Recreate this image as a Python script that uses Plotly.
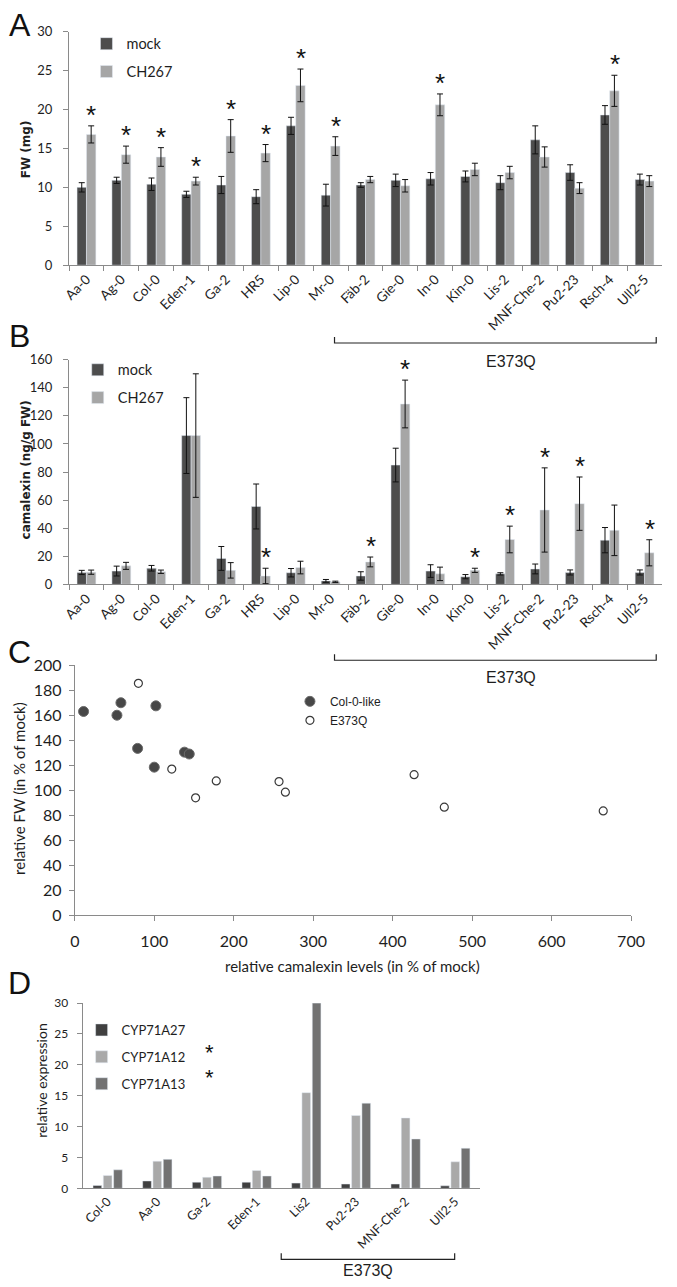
import plotly.graph_objects as go

W, H = 677, 1287

# ---- panel A / B data -------------------------------------------------------
ACCESSIONS = ["Aa-0", "Ag-0", "Col-0", "Eden-1", "Ga-2", "HR5", "Lip-0", "Mr-0",
              "Fäb-2", "Gie-0", "In-0", "Kin-0", "Lis-2", "MNF-Che-2", "Pu2-23",
              "Rsch-4", "Ull2-5"]

FW_MOCK = [10.0, 10.9, 10.4, 9.1, 10.3, 8.8, 17.9, 9.0, 10.3, 10.9, 11.1, 11.4, 10.6, 16.1, 11.9, 19.3, 11.0]
FW_MOCK_ERR = [0.6, 0.4, 0.8, 0.4, 1.1, 0.9, 1.1, 1.4, 0.3, 0.8, 0.8, 0.7, 0.9, 1.8, 1.0, 1.2, 0.7]
FW_CH267 = [16.8, 14.2, 13.9, 10.8, 16.6, 14.4, 23.1, 15.3, 11.0, 10.2, 20.6, 12.3, 11.9, 13.9, 9.9, 22.4, 10.8]
FW_CH267_ERR = [1.1, 1.1, 1.2, 0.5, 2.1, 1.1, 2.1, 1.2, 0.4, 0.8, 1.4, 0.8, 0.8, 1.3, 0.7, 2.0, 0.7]
FW_SIGNIFICANT = ["Aa-0", "Ag-0", "Col-0", "Eden-1", "Ga-2", "HR5", "Lip-0", "Mr-0", "In-0", "Rsch-4"]

CAM_MOCK = [8.5, 9.5, 11.5, 106, 18.5, 55.5, 8.3, 2.5, 6.0, 85, 9.5, 5.5, 7.5, 11, 8.5, 31.5, 8.5]
CAM_MOCK_ERR = [1.5, 3.5, 2.0, 27, 8.5, 16, 3.0, 1.0, 3.0, 12, 4.5, 1.5, 0.8, 3.5, 1.8, 9, 1.8]
CAM_CH267 = [8.7, 13.2, 9.0, 106, 10, 6, 12, 1.8, 16, 128.5, 7.5, 10, 32, 53, 57.5, 38.5, 22.5]
CAM_CH267_ERR = [1.5, 2.5, 1.2, 44, 5.5, 5.5, 4.5, 0.5, 3.5, 17, 4.8, 1.5, 9.5, 30, 19, 18, 9.3]
CAM_SIGNIFICANT = ["HR5", "Fäb-2", "Gie-0", "Kin-0", "Lis-2", "MNF-Che-2", "Pu2-23", "Ull2-5"]

# ---- panel C data -----------------------------------------------------------
COL_LIKE_CAM = [11, 53, 58, 102, 79, 100, 138, 144]
COL_LIKE_FW = [163, 160, 170, 167.5, 133.5, 118.5, 130.5, 129]
E373Q_CAM = [80, 122, 152, 178, 257, 265, 427, 465, 665]
E373Q_FW = [185.5, 117, 94, 107.5, 107, 98.5, 112.5, 86.5, 83.5]

# ---- panel D data -----------------------------------------------------------
EXPR_LINES = ["Col-0", "Aa-0", "Ga-2", "Eden-1", "Lis2", "Pu2-23", "MNF-Che-2", "Ull2-5"]
CYP71A27 = [0.45, 1.2, 1.0, 1.0, 0.85, 0.7, 0.7, 0.4]
CYP71A12 = [2.1, 4.4, 1.8, 2.9, 15.5, 11.8, 11.4, 4.3]
CYP71A13 = [3.0, 4.7, 2.0, 2.0, 30.0, 13.8, 8.0, 6.5]
EXPR_SIGNIFICANT = ["CYP71A12", "CYP71A13"]

MOCK_COLOR = "#4d4d4d"
CH267_COLOR = "#a6a6a6"
AXIS_COLOR = "#8a8a8a"
TEXT = "#1e1e1e"
CALIBRI = "Lato, 'Open Sans', sans-serif"
ARIAL = "'Liberation Sans', Arial, sans-serif"
VERDANA = "'DejaVu Sans', Verdana, sans-serif"


def px(x):
    return x / W


def py(y):
    return 1 - y / H


def err(values):
    return {"type": "data", "array": values, "color": "#111111", "thickness": 1, "width": 3}


fig = go.Figure()

# panel A and B bars
for xa, ya, leg, mock, mock_err, ch, ch_err, tag in [
    ("x", "y", "legend", FW_MOCK, FW_MOCK_ERR, FW_CH267, FW_CH267_ERR, "a"),
    ("x2", "y2", "legend2", CAM_MOCK, CAM_MOCK_ERR, CAM_CH267, CAM_CH267_ERR, "b"),
]:
    fig.add_trace(go.Bar(x=ACCESSIONS, y=mock, name="mock", marker_color=MOCK_COLOR,
                         width=0.27, offset=-0.27, error_y=err(mock_err),
                         xaxis=xa, yaxis=ya, legend=leg, legendgroup=tag + "mock"))
    fig.add_trace(go.Bar(x=ACCESSIONS, y=ch, name="CH267", marker_color=CH267_COLOR,
                         width=0.27, offset=0, error_y=err(ch_err),
                         xaxis=xa, yaxis=ya, legend=leg, legendgroup=tag + "ch"))

# panel C scatter
fig.add_trace(go.Scatter(x=COL_LIKE_CAM, y=COL_LIKE_FW, mode="markers", name="Col-0-like",
                         marker={"size": 10, "color": "#474747", "line": {"color": "#6a6a6a", "width": 1}},
                         xaxis="x3", yaxis="y3", legend="legend3", legendgroup="c1"))
fig.add_trace(go.Scatter(x=E373Q_CAM, y=E373Q_FW, mode="markers", name="E373Q",
                         marker={"size": 8, "color": "white", "line": {"color": "#3a3a3a", "width": 1.2}},
                         xaxis="x3", yaxis="y3", legend="legend3", legendgroup="c2"))

# panel D bars
expr_series = [("CYP71A27", CYP71A27, "#404040", -0.29),
               ("CYP71A12", CYP71A12, "#a9a9a9", -0.083),
               ("CYP71A13", CYP71A13, "#727272", 0.125)]
for name, vals, color, off in expr_series:
    fig.add_trace(go.Bar(x=EXPR_LINES, y=vals, name=name, marker_color=color,
                         width=0.175, offset=off, xaxis="x4", yaxis="y4",
                         legend="legend4", legendgroup=name))

annotations = []

# significance asterisks over CH267 bars
for xa, ya, vals, errs, sig in [("x", "y", FW_CH267, FW_CH267_ERR, FW_SIGNIFICANT),
                                ("x2", "y2", CAM_CH267, CAM_CH267_ERR, CAM_SIGNIFICANT)]:
    for name, v, e in zip(ACCESSIONS, vals, errs):
        if name in sig:
            annotations.append(dict(x=name, y=v + e, xref=xa, yref=ya, text="*", showarrow=False,
                                    xshift=5, yshift=-6, yanchor="bottom",
                                    font={"family": ARIAL, "size": 26, "color": "#111"}))

# panel letters
for letter, y in [("A", 15), ("B", 331), ("C", 652), ("D", 988)]:
    annotations.append(dict(x=px(13), y=py(y), xref="paper", yref="paper", text=letter,
                            showarrow=False, xanchor="center", yanchor="middle",
                            font={"family": ARIAL, "size": 32, "color": "#111"}))

# axis titles
titles = [
    dict(x=px(20), y=py(141), text="<b>FW (mg)</b>", textangle=-90,
         font={"family": VERDANA, "size": 12, "color": TEXT}),
    dict(x=px(20), y=py(467), text="<b>camalexin (ng/g FW)</b>", textangle=-90,
         font={"family": VERDANA, "size": 12, "color": TEXT}),
    dict(x=px(13), y=py(790), text="relative FW (in % of mock)", textangle=-90,
         font={"family": CALIBRI, "size": 15, "color": TEXT}),
    dict(x=px(357), y=py(970), text="relative camalexin levels (in % of mock)",
         font={"family": CALIBRI, "size": 15, "color": TEXT}),
    dict(x=px(36), y=py(1086), text="relative expression", textangle=-90,
         font={"family": CALIBRI, "size": 14, "color": TEXT}),
]
for a in titles:
    a.update(xref="paper", yref="paper", showarrow=False, xanchor="center", yanchor="middle")
annotations += titles

# E373Q group labels and brackets
shapes = []
for x0, x1, y_line, y_text, x_text in [(338, 670, 338, 357, 520), (338, 670, 660, 678, 520),
                                       (283, 462, 1268, 1279, 373)]:
    shapes.append(dict(type="path", xref="paper", yref="paper",
                       path=f"M {px(x0)} {py(y_line - 6)} L {px(x0)} {py(y_line)} "
                            f"L {px(x1)} {py(y_line)} L {px(x1)} {py(y_line - 6)}",
                       line={"color": "#222", "width": 1.2}))
    annotations.append(dict(x=px(x_text), y=py(y_text), xref="paper", yref="paper", text="E373Q",
                            showarrow=False, xanchor="center", yanchor="middle",
                            font={"family": ARIAL, "size": 16, "color": TEXT}))

# legend asterisks in panel D (next to the significant genes, one legend row = 25 px)
for i, (name, *_rest) in enumerate(expr_series):
    if name in EXPR_SIGNIFICANT:
        annotations.append(dict(x=px(209), y=py(1033 + 25 * i), xref="paper", yref="paper", text="*",
                                showarrow=False, xanchor="center", yanchor="middle", height=16,
                                font={"family": ARIAL, "size": 22, "color": "#111"}))


def axis(**kw):
    base = dict(showline=True, linecolor=AXIS_COLOR, linewidth=1, showgrid=False, zeroline=False,
                ticks="outside", ticklen=5, tickcolor=AXIS_COLOR, tickwidth=1,
                tickfont={"family": CALIBRI, "size": 13, "color": TEXT})
    base.update(kw)
    return base


def legend(x, y, font, gap):
    return dict(x=px(x), y=py(y), xanchor="left", yanchor="top", bgcolor="rgba(0,0,0,0)",
                font=font, tracegroupgap=gap, itemwidth=30)


fig.update_layout(
    width=W, height=H, margin=dict(l=0, r=0, t=0, b=0),
    paper_bgcolor="white", plot_bgcolor="white",
    xaxis=axis(domain=[px(64), px(676)], anchor="y", tickson="boundaries", tickangle=-45,
               tickfont={"family": CALIBRI, "size": 13.5, "color": TEXT}),
    yaxis=axis(domain=[py(259), py(22)], anchor="x", range=[0, 30], dtick=5, ticklabelstandoff=8),
    xaxis2=axis(domain=[px(64), px(676)], anchor="y2", tickson="boundaries", tickangle=-45,
                tickfont={"family": CALIBRI, "size": 13.5, "color": TEXT}),
    yaxis2=axis(domain=[py(583), py(355)], anchor="x2", range=[0, 160], dtick=20, ticklabelstandoff=8),
    xaxis3=axis(domain=[px(70), px(644)], anchor="y3", range=[0, 700], dtick=100,
                tickfont={"family": CALIBRI, "size": 16, "color": TEXT}, ticklabelstandoff=6),
    yaxis3=axis(domain=[py(919), py(665)], anchor="x3", range=[0, 200], dtick=20,
                tickfont={"family": CALIBRI, "size": 16, "color": TEXT}, ticklabelstandoff=4),
    xaxis4=axis(domain=[px(78), px(488)], anchor="y4", ticks="", tickangle=-45,
                tickfont={"family": CALIBRI, "size": 12.5, "color": TEXT}),
    yaxis4=axis(domain=[py(1196), py(1008)], anchor="x4", range=[0, 30], dtick=5,
                tickfont={"family": CALIBRI, "size": 12, "color": TEXT}, ticklabelstandoff=6),
    legend=legend(82, 18, {"family": CALIBRI, "size": 14.5, "color": TEXT}, 6),
    legend2=legend(73, 349, {"family": CALIBRI, "size": 14.5, "color": TEXT}, 6),
    legend3=legend(292, 687, {"family": ARIAL, "size": 12, "color": TEXT}, 0),
    legend4=legend(77, 1020, {"family": CALIBRI, "size": 13, "color": TEXT}, 7),
    annotations=annotations,
    shapes=shapes,
)

fig.write_html("out.html", config={"displayModeBar": False},
               post_script="document.body.style.margin = '0px';")
